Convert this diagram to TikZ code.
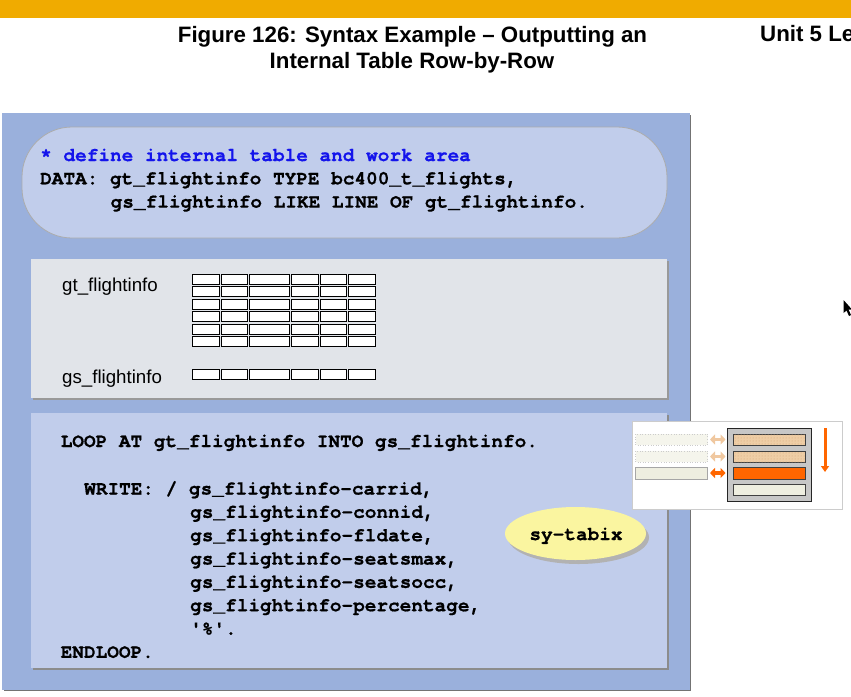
\documentclass[tikz,border=0pt]{standalone}
\usepackage{fontspec}
\setmainfont{Liberation Sans}
\setmonofont{TeX Gyre Cursor}[Ligatures={NoCommon,NoRare}, BoldFeatures={FakeBold=0.6}]
\usetikzlibrary{patterns,shadows,arrows.meta}
\definecolor{sapgold}{RGB}{240,171,0}
\definecolor{panelblue}{RGB}{154,176,220}
\definecolor{pillblue}{RGB}{193,205,235}
\definecolor{codeblue}{RGB}{193,205,235}
\definecolor{panelgray}{RGB}{225,228,233}
\definecolor{kwblue}{RGB}{20,20,235}
\definecolor{tabyellow}{RGB}{250,245,160}
\definecolor{sorange}{RGB}{255,102,0}
\definecolor{beigebar}{RGB}{238,238,224}
\definecolor{tanbar}{RGB}{238,205,165}
\definecolor{fadearrow}{RGB}{240,200,160}
\tikzset{
  codeline/.style={anchor=base west, inner sep=0pt, font=\ttfamily\bfseries\fontsize{19.4}{23}\selectfont},
  titleline/.style={anchor=base, inner sep=0pt, font=\bfseries\fontsize{22.3}{26}\selectfont},
  varlabel/.style={anchor=base west, inner sep=0pt, font=\fontsize{18.7}{20}\selectfont},
  cell/.style={draw=black, line width=0.8pt, fill=white},
  leftbar/.style={fill=beigebar, draw=gray!70, line width=0.6pt},
  fadebar/.style={fill=beigebar!60, draw=gray!40, dotted, line width=0.6pt},
  rowbar/.style={draw=black!75, line width=0.8pt},
  dblarrow/.style={line width=3.4pt, {Triangle[width=10pt,length=5pt]}-{Triangle[width=10pt,length=5pt]}},
}
\begin{document}
\begin{tikzpicture}[x=1pt,y=-1pt]
\useasboundingbox (0,0) rectangle (851,696);
\clip (0,0) rectangle (851,696);
\fill[white] (0,0) rectangle (851,696);
\fill[sapgold] (0,0) rectangle (851,18);

% titles
\node[titleline] (t1) at (412.5,42) {Figure 126: Syntax Example \textendash{} Outputting an};
\node[titleline] (t2) at (412,68) {Internal Table Row-by-Row};
\node[titleline, anchor=base west] (unit) at (760,41.5) {Unit 5 Le};

% main blue panel
\fill[black!55] (4,115) rectangle (691,691);
\fill[panelblue] (2,113) rectangle (689.5,689.5);

% top pill
\draw[fill=pillblue, draw=gray!65, line width=0.8pt, rounded corners=50pt] (22,127) rectangle (667,238);
\node[codeline, text=kwblue] (c1) at (40,161) {* define internal table and work area};
\node[codeline] (c2) at (40,184.3) {DATA: gt\_flightinfo TYPE bc400\_t\_flights,};
\node[codeline] (c3) at (110.5,207.6) {gs\_flightinfo LIKE LINE OF gt\_flightinfo.};

% gray panel
\fill[black!40] (33,261) rectangle (668.5,399.5);
\fill[panelgray] (31,259) rectangle (667,398);
\node[varlabel] (gt) at (62,291) {gt\_flightinfo};
\node[varlabel] (gs) at (62,383) {gs\_flightinfo};
\foreach \a/\b in {192/219,221/247.6,249.6/289,291/318,320/346,348/375}{
  \foreach \r in {0,...,5}{
    \draw[cell] (\a,274.3+12.45*\r) rectangle (\b,284.3+12.45*\r);
  }
  \draw[cell] (\a,369.3) rectangle (\b,379.3);
}

% code panel
\fill[black!45] (33,415) rectangle (668.5,669.5);
\fill[codeblue] (31,413) rectangle (667,668);
\node[codeline] (l1) at (60.5,447) {LOOP AT gt\_flightinfo INTO gs\_flightinfo.};
\node[codeline] (l2) at (84,494.5) {WRITE: / gs\_flightinfo-carrid,};
\node[codeline] (l3) at (190,517.8) {gs\_flightinfo-connid,};
\node[codeline] (l4) at (190,541.2) {gs\_flightinfo-fldate,};
\node[codeline] (l5) at (190,564.5) {gs\_flightinfo-seatsmax,};
\node[codeline] (l6) at (190,587.8) {gs\_flightinfo-seatsocc,};
\node[codeline] (l7) at (190,611.2) {gs\_flightinfo-percentage,};
\node[codeline] (l8) at (190,634.5) {'\%'.};
\node[codeline] (l9) at (60.5,657.8) {ENDLOOP.};

% sy-tabix ellipse
\fill[black!30] (578.5,537.5) ellipse [x radius=70.5, y radius=26.5];
\fill[tabyellow] (575.5,533.5) ellipse [x radius=70.5, y radius=26.5];
\node[codeline, anchor=base] (tabix) at (576,540) {sy-tabix};

% right inset
\draw[fill=white, draw=gray!40, line width=0.8pt] (632,421) rectangle (842,509);
\draw[fadebar] (635.5,434) rectangle (707.5,445);
\draw[fadebar] (635.5,451) rectangle (707.5,462);
\draw[leftbar] (635.5,467) rectangle (707.5,479);
\coordinate (a1l) at (710,439.5); \coordinate (a1r) at (725.5,439.5);
\coordinate (a2l) at (710,456.5); \coordinate (a2r) at (725.5,456.5);
\coordinate (a3l) at (710,473); \coordinate (a3r) at (725.5,473);
\draw[dblarrow, fadearrow] (a1l) -- (a1r);
\draw[dblarrow, fadearrow] (a2l) -- (a2r);
\draw[dblarrow, sorange] (a3l) -- (a3r);
\draw[fill=black!22, draw=black!85, line width=0.9pt] (727.5,428.5) rectangle (811,501);
\draw[rowbar, fill=tanbar] (733.5,434) rectangle (805.5,445);
\fill[pattern=dots, pattern color=brown!70] (733.5,434) rectangle (805.5,445);
\draw[rowbar, fill=tanbar] (733.5,451) rectangle (805.5,462);
\fill[pattern=dots, pattern color=brown!70] (733.5,451) rectangle (805.5,462);
\draw[rowbar, fill=sorange] (733.5,467.5) rectangle (805.5,479);
\draw[rowbar, fill=beigebar] (733.5,484) rectangle (805.5,495.5);
\coordinate (dtop) at (825,428); \coordinate (dbot) at (825,472);
\draw[sorange, line width=3pt, -{Triangle[width=8pt,length=6pt]}] (dtop) -- (dbot);

% mouse cursor
\fill[black] (843.5,300) -- (843.5,313) -- (846.5,310.5) -- (849,316) -- (851,315) -- (848.5,309.5) -- (852,309.5) -- cycle;
\end{tikzpicture}
\end{document}
